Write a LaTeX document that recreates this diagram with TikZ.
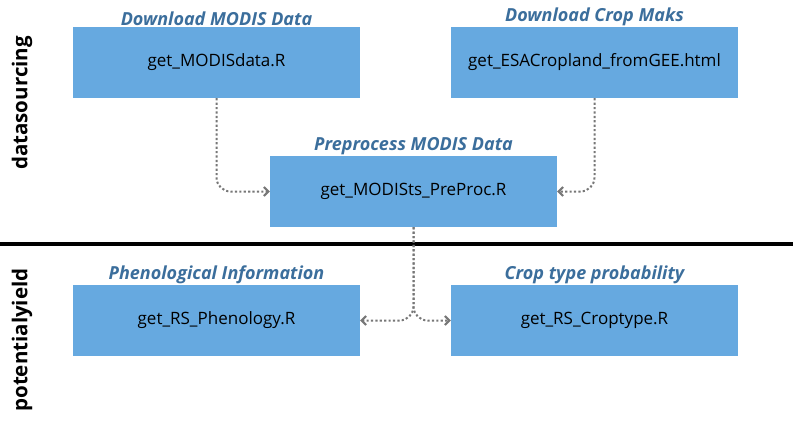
\documentclass[tikz,border=0pt]{standalone}
\usepackage{fontspec}
\setmainfont{Open Sans}
\usetikzlibrary{arrows.meta,positioning}
\definecolor{boxblue}{HTML}{66A9E0}
\definecolor{titleblue}{HTML}{3B6E9C}
\definecolor{flowgray}{HTML}{777777}

\begin{document}
\begin{tikzpicture}[x=1pt,y=-1pt,
    script/.style={rectangle,fill=boxblue,minimum width=287pt,minimum height=71pt,inner sep=0pt,font=\fontsize{17}{20}\selectfont},
    title/.style={font=\fontsize{18}{21}\selectfont\bfseries\itshape,text=titleblue,inner sep=0.5pt},
    flow/.style={flowgray,line width=2pt,dash pattern=on 2.2pt off 2.2pt,rounded corners=14pt,-{Straight Barb[length=4.5pt,width=9pt]}},
    side/.style={font=\fontsize{20.5}{24}\selectfont\bfseries,rotate=90}]
  \useasboundingbox (0,0) rectangle (793,424);
  % datasourcing
  \node[script,label={[title]above:Download MODIS Data}] (modis) at (216.5,62.5) {get\_MODISdata.R};
  \node[script,label={[title]above:Download Crop Maks}] (esa) at (594.5,62.5) {get\_ESACropland\_fromGEE.html};
  \node[script,label={[title]above:Preprocess MODIS Data}] (preproc) at (413.5,191.5) {get\_MODISts\_PreProc.R};
  % potentialyield
  \node[script,label={[title]above:Phenological Information}] (pheno) at (216.5,320.5) {get\_RS\_Phenology.R};
  \node[script,label={[title]above:Crop type probability}] (crop) at (594.5,320.5) {get\_RS\_Croptype.R};
  \node[side] (ds) at (22,103) {datasourcing};
  \node[side] (py) at (22,340) {potentialyield};
  \coordinate (sepL) at (0,244);
  \coordinate (sepR) at (793,244);
  \draw[line width=3.5pt] (sepL) -- (sepR);
  \draw[flow] (modis.south) |- (preproc.west);
  \draw[flow] (esa.south) |- (preproc.east);
  \draw[flow] (preproc.south) |- (pheno.east);
  \draw[flow] (preproc.south) |- (crop.west);
\end{tikzpicture}
\end{document}
